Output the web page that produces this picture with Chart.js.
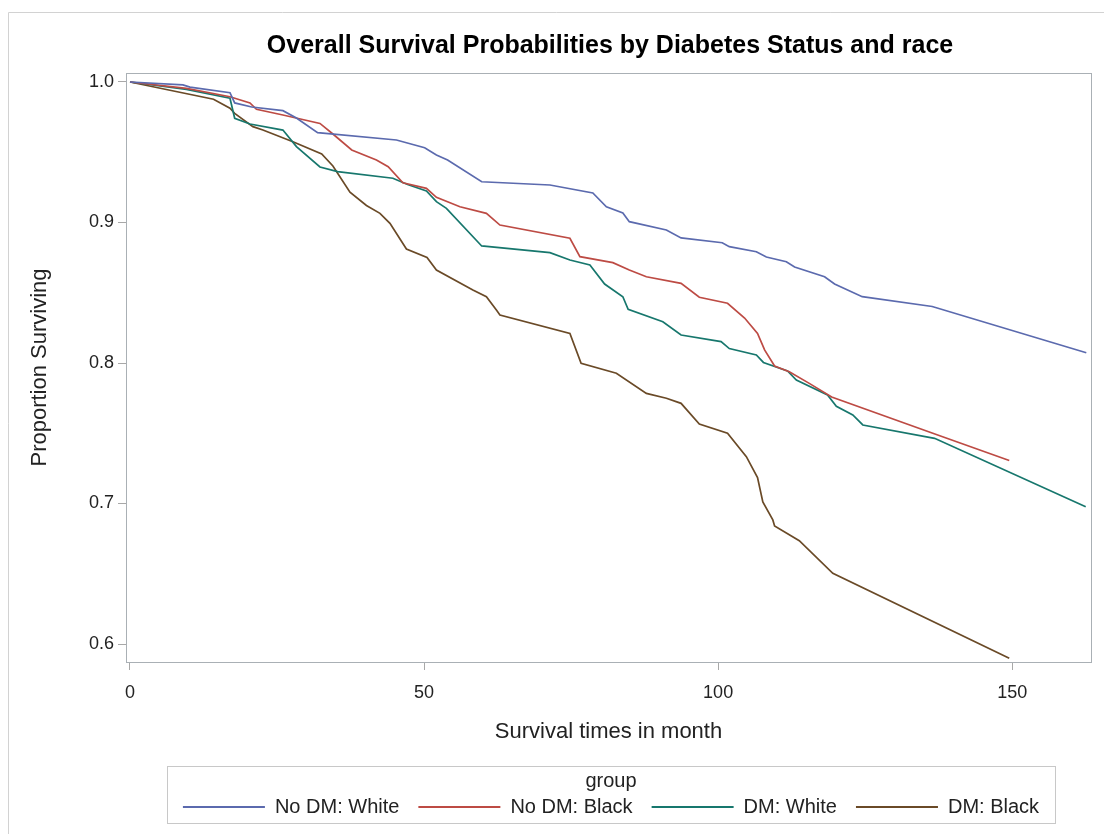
<!DOCTYPE html>
<html>
<head>
<meta charset="utf-8">
<script src="https://cdn.jsdelivr.net/npm/chart.js@4.4.1/dist/chart.umd.min.js"></script>
<style>
  html, body { margin: 0; padding: 0; background: #fff; }
  #wrap { position: relative; width: 1104px; height: 834px; }
</style>
</head>
<body>
<div id="wrap"><canvas id="km" width="1104" height="834"></canvas></div>
<script>
// series: time in months / proportion surviving
const noDmWhiteT = [0, 9.0, 10.2, 17.0, 17.8, 20.7, 26.0, 28.3, 31.9, 45.3, 50.1, 52.1, 54.0, 59.8, 71.4, 78.7, 81.0, 83.8, 84.9, 91.2, 93.7, 100.7, 101.9, 106.5, 108.2, 111.6, 113.0, 118.1, 119.8, 124.5, 136.4, 162.6];
const noDmWhiteS = [1.0, 0.9979, 0.9964, 0.9924, 0.9851, 0.9822, 0.9796, 0.9744, 0.9639, 0.9587, 0.9532, 0.9480, 0.9445, 0.9290, 0.9267, 0.9210, 0.9112, 0.9068, 0.9006, 0.8947, 0.8890, 0.8856, 0.8828, 0.8792, 0.8754, 0.8721, 0.8683, 0.8614, 0.8562, 0.8472, 0.8402, 0.8073];

const noDmBlackT = [0, 9.6, 17.0, 20.4, 21.5, 26.0, 32.3, 34.5, 37.7, 41.9, 43.9, 46.4, 50.4, 52.1, 56.1, 60.6, 62.9, 74.8, 76.5, 82.1, 84.9, 87.8, 93.7, 96.8, 101.6, 104.5, 106.7, 107.9, 109.6, 112.1, 115.5, 119.3, 136.5, 149.5];
const noDmBlackS = [1.0, 0.9955, 0.9895, 0.9851, 0.9806, 0.9765, 0.9705, 0.9630, 0.9516, 0.9445, 0.9397, 0.9283, 0.9243, 0.9179, 0.9112, 0.9065, 0.8982, 0.8888, 0.8757, 0.8714, 0.8662, 0.8614, 0.8567, 0.8468, 0.8425, 0.8320, 0.8211, 0.8093, 0.7979, 0.7938, 0.7855, 0.7758, 0.7500, 0.7306];

const dmWhiteT = [0, 9.6, 17.0, 17.8, 20.4, 26.0, 28.3, 32.3, 35.3, 44.7, 47.2, 50.4, 52.1, 53.8, 59.8, 71.4, 74.8, 78.2, 80.7, 83.8, 84.7, 90.6, 93.7, 100.5, 101.9, 106.5, 107.7, 111.8, 113.3, 118.6, 120.1, 122.9, 124.6, 136.8, 162.5];
const dmWhiteS = [1.0, 0.9948, 0.9884, 0.9742, 0.9701, 0.9658, 0.9540, 0.9395, 0.9362, 0.9315, 0.9270, 0.9224, 0.9148, 0.9101, 0.8833, 0.8785, 0.8733, 0.8698, 0.8562, 0.8472, 0.8382, 0.8294, 0.8199, 0.8152, 0.8103, 0.8057, 0.8004, 0.7943, 0.7879, 0.7772, 0.7692, 0.7630, 0.7559, 0.7464, 0.6977];

const dmBlackT = [0, 14.2, 17.0, 17.8, 20.9, 22.6, 27.7, 32.6, 34.5, 37.4, 40.2, 42.5, 44.2, 47.0, 50.5, 52.1, 58.3, 60.6, 62.3, 62.9, 74.8, 76.7, 82.7, 87.8, 91.2, 93.7, 96.8, 101.6, 104.8, 106.7, 107.6, 109.3, 109.6, 113.8, 119.5, 149.5];
const dmBlackS = [1.0, 0.9877, 0.9813, 0.9777, 0.9682, 0.9658, 0.9575, 0.9488, 0.9402, 0.9216, 0.9121, 0.9065, 0.8994, 0.8811, 0.8751, 0.8662, 0.8520, 0.8472, 0.8377, 0.8342, 0.8211, 0.7998, 0.7927, 0.7784, 0.7749, 0.7713, 0.7566, 0.7500, 0.7333, 0.7185, 0.7011, 0.6883, 0.6840, 0.6735, 0.6503, 0.5898];

const groupNames = ['No DM: White', 'No DM: Black', 'DM: White', 'DM: Black'];
const groupColors = ['#5b6aae', '#bd4b44', '#17776d', '#6a4a27'];
const xTickVals = [0, 50, 100, 150];
const yTickVals = [0.6, 0.7, 0.8, 0.9, 1.0];

const FONT = '"Liberation Sans", Arial, Helvetica, sans-serif';

function pts(t, s) {
    return t.map((x, i) => ({ x: x, y: s[i] }));
}

const series = [
    pts(noDmWhiteT, noDmWhiteS),
    pts(noDmBlackT, noDmBlackS),
    pts(dmWhiteT, dmWhiteS),
    pts(dmBlackT, dmBlackS)
];

// frame, outer border, title and the boxed legend (SAS style)
const sasDecor = {
    id: 'sasDecor',
    afterDraw(chart) {
        const ctx = chart.ctx;
        const a = chart.chartArea;
        ctx.save();

        // outer border of the graph image
        ctx.strokeStyle = '#d2d2d2';
        ctx.lineWidth = 1;
        ctx.beginPath();
        ctx.moveTo(8.5, 840);
        ctx.lineTo(8.5, 12.5);
        ctx.lineTo(1110, 12.5);
        ctx.stroke();

        // plot frame
        ctx.strokeStyle = '#aab0b5';
        ctx.strokeRect(Math.round(a.left) + 0.5, Math.round(a.top) + 0.5,
            Math.round(a.right - a.left), Math.round(a.bottom - a.top));

        // title
        ctx.fillStyle = '#000';
        ctx.font = 'bold 25px ' + FONT;
        ctx.textAlign = 'center';
        ctx.textBaseline = 'middle';
        ctx.fillText('Overall Survival Probabilities by Diabetes Status and race', 610, 46);

        // legend
        ctx.strokeStyle = '#c8c8c8';
        ctx.strokeRect(167.5, 766.5, 888, 57);
        ctx.font = '20px ' + FONT;
        ctx.fillStyle = '#222';
        ctx.fillText('group', 611, 781);

        const lineLen = 82, gapTxt = 10, gapItem = 19;
        const widths = groupNames.map(n => ctx.measureText(n).width);
        let total = 0;
        widths.forEach((w, i) => { total += lineLen + gapTxt + w + (i ? gapItem : 0); });
        let x = 611 - total / 2;
        const y = 807;
        ctx.textAlign = 'left';
        groupNames.forEach((n, i) => {
            ctx.strokeStyle = groupColors[i];
            ctx.lineWidth = 1.8;
            ctx.beginPath();
            ctx.moveTo(x, y);
            ctx.lineTo(x + lineLen, y);
            ctx.stroke();
            ctx.fillText(n, x + lineLen + gapTxt, y);
            x += lineLen + gapTxt + widths[i] + gapItem;
        });
        ctx.restore();
    }
};

const config = {
    type: 'line',
    data: {
        datasets: series.map((d, i) => ({
            label: groupNames[i],
            data: d,
            borderColor: groupColors[i],
            backgroundColor: groupColors[i],
            borderWidth: 1.7,
            pointRadius: 0,
            tension: 0,
            fill: false
        }))
    },
    options: {
        responsive: false,
        animation: false,
        layout: { padding: { top: 73, right: 13, bottom: 0, left: 0 } },
        plugins: {
            legend: { display: false },
            title: { display: false },
            tooltip: { enabled: false }
        },
        scales: {
            x: {
                type: 'linear',
                min: -0.68,
                max: 163.4,
                afterFit: s => { s.height = 172; },
                afterBuildTicks: s => { s.ticks = xTickVals.map(v => ({ value: v })); },
                grid: { drawOnChartArea: false, drawTicks: true, tickLength: 8, color: '#a8a8a8' },
                border: { display: false },
                ticks: {
                    color: '#222',
                    font: { family: FONT, size: 18 },
                    padding: 12,
                    maxRotation: 0,
                    callback: v => String(v)
                },
                title: {
                    display: true,
                    text: 'Survival times in month',
                    color: '#222',
                    font: { family: FONT, size: 22 },
                    padding: { top: 0, bottom: 89 }
                }
            },
            y: {
                type: 'linear',
                min: 0.5872,
                max: 1.0064,
                afterFit: s => { s.width = 126; },
                afterBuildTicks: s => { s.ticks = yTickVals.map(v => ({ value: v })); },
                grid: { drawOnChartArea: false, drawTicks: true, tickLength: 8, color: '#a8a8a8' },
                border: { display: false },
                ticks: {
                    color: '#222',
                    font: { family: FONT, size: 18 },
                    padding: 4,
                    callback: v => v.toFixed(1)
                },
                title: {
                    display: true,
                    text: 'Proportion Surviving',
                    color: '#222',
                    font: { family: FONT, size: 22 },
                    padding: { top: 27, bottom: 0 }
                }
            }
        }
    },
    plugins: [sasDecor]
};

const kmChart = new Chart(document.getElementById('km').getContext('2d'), config);
</script>
</body>
</html>
